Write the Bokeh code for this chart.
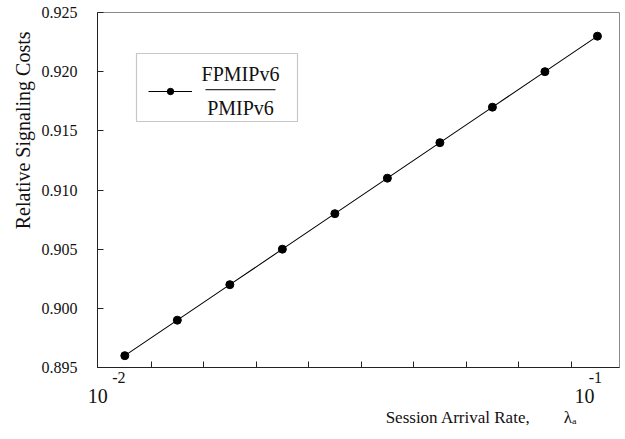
import numpy as np
from bokeh.plotting import figure
from bokeh.models import (Range1d, FixedTicker, Label, BoxAnnotation, Legend,
                          LegendItem, LinearAxis, Title)
from bokeh.embed import file_html
from bokeh.resources import INLINE

# ---------------- data ----------------
session_rate = [0.01, 0.02, 0.03, 0.04, 0.05, 0.06, 0.07, 0.08, 0.09, 0.10]
relative_cost = [0.896, 0.899, 0.902, 0.905, 0.908, 0.911, 0.914, 0.917, 0.920, 0.923]

x_minor_ticks = [0.015, 0.025, 0.035, 0.045, 0.055, 0.065, 0.075, 0.085, 0.095]
x_decade_pos = [0.01, 0.10]
x_decade_exp = ["-2", "-1"]
x_decade_base = ["10", "10"]

y_ticks = [0.895, 0.900, 0.905, 0.910, 0.915, 0.920, 0.925]
y_tick_labels = ["0.895", "0.900", "0.905", "0.910", "0.915", "0.920", "0.925"]

series_name_top = "FPMIPv6"
series_name_bottom = "PMIPv6"
x_title = "Session Arrival Rate,\u2003\u2003λₐ"
y_title = "Relative Signaling Costs"

FONT = "Liberation Serif"
X_START, X_END = 0.0048, 0.1042
FRAME_W = 522

p = figure(width=625, height=439, output_backend="svg", toolbar_location=None,
           x_range=Range1d(X_START, X_END), y_range=Range1d(0.895, 0.925),
           min_border_left=97, min_border_right=6, min_border_top=12,
           min_border_bottom=72)
p.background_fill_color = "white"
p.border_fill_color = "white"
p.outline_line_color = "#8a8a8a"
p.grid.visible = False

# y axis
ya = p.yaxis[0]
ya.ticker = FixedTicker(ticks=y_ticks, minor_ticks=[])
ya.major_label_overrides = {t: s for t, s in zip(y_ticks, y_tick_labels)}
ya.major_tick_in = 6
ya.major_tick_out = 0
ya.minor_tick_in = 0
ya.minor_tick_out = 0
ya.major_label_standoff = 20
ya.major_label_text_font = FONT
ya.major_label_text_font_size = "16px"
ya.major_label_text_color = "#111"
ya.axis_line_color = "#222"
ya.major_tick_line_color = "#222"

# x axis: inward minor ticks, exponent labels near the decades
px = (X_END - X_START) / FRAME_W
exp_pos = [x_decade_pos[0] - 6 * px, x_decade_pos[1] - 2 * px]
xa = p.xaxis[0]
xa.ticker = FixedTicker(ticks=exp_pos, minor_ticks=x_minor_ticks)
xa.major_label_overrides = {t: s for t, s in zip(exp_pos, x_decade_exp)}
xa.major_tick_in = 0
xa.major_tick_out = 0
xa.minor_tick_in = 6
xa.minor_tick_out = 0
xa.major_label_standoff = 4
xa.major_label_text_font = FONT
xa.major_label_text_font_size = "16px"
xa.major_label_text_color = "#111"
xa.axis_line_color = "#222"
xa.minor_tick_line_color = "#222"

# second row of decade labels: the base "10", shifted left of the exponent
base_pos = [max(x_decade_pos[0] - 27 * px, X_START + 0.3 * px),
            x_decade_pos[1] - 13 * px]
xa2 = LinearAxis(ticker=FixedTicker(ticks=base_pos, minor_ticks=[]),
                 major_label_overrides={t: s for t, s in zip(base_pos, x_decade_base)},
                 axis_line_color=None, major_tick_in=0, major_tick_out=0,
                 minor_tick_in=0, minor_tick_out=0, major_label_standoff=3,
                 major_label_text_font=FONT, major_label_text_font_size="20px",
                 major_label_text_color="#111")
p.add_layout(xa2, "below")

# axis titles
p.add_layout(Title(text=x_title, align="right", offset=42, standoff=0,
                   text_font=FONT, text_font_size="17px", text_font_style="normal",
                   text_color="#111"), "below")
p.add_layout(Title(text=y_title, align="right", offset=19, standoff=10,
                   text_font=FONT, text_font_size="20px", text_font_style="normal",
                   text_color="#111"), "left")

# data
ln = p.line(session_rate, relative_cost, line_color="black", line_width=1.1)
sc = p.scatter(session_rate, relative_cost, marker="circle", size=8,
               fill_color="black", line_color="black")

# legend frame
p.add_layout(BoxAnnotation(left=39, right=200, bottom=246, top=314,
                           left_units="screen", right_units="screen",
                           bottom_units="screen", top_units="screen",
                           fill_alpha=0, line_color="#444", line_width=1.2))
# legend sample (line + marker)
leg = Legend(items=[LegendItem(label=" ", renderers=[ln, sc])],
             location=(51, 268), padding=0, margin=0, spacing=0,
             glyph_width=44, glyph_height=16, label_standoff=0, label_width=0,
             label_text_font_size="8px", border_line_alpha=0,
             background_fill_alpha=0)
p.add_layout(leg, "center")
# fraction text
p.add_layout(Label(x=143, y=294, x_units="screen", y_units="screen",
                   text=series_name_top, text_align="center", text_baseline="middle",
                   text_font=FONT, text_font_size="20px", text_color="#111"))
p.add_layout(BoxAnnotation(left=108, right=178, bottom=277.2, top=278.4,
                           left_units="screen", right_units="screen",
                           bottom_units="screen", top_units="screen",
                           fill_color="#333", fill_alpha=1, line_alpha=0))
p.add_layout(Label(x=143, y=260, x_units="screen", y_units="screen",
                   text=series_name_bottom, text_align="center", text_baseline="middle",
                   text_font=FONT, text_font_size="20px", text_color="#111"))

open("out.html", "w").write(file_html(p, INLINE))
